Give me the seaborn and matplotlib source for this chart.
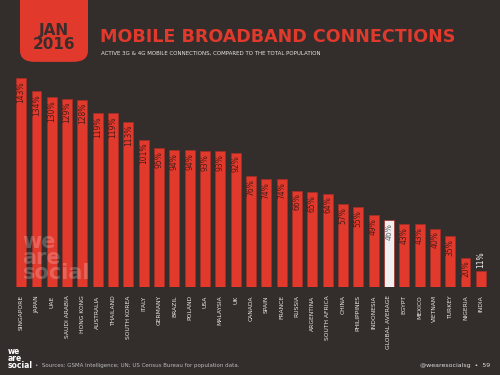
import numpy as np
import matplotlib.pyplot as plt
import seaborn as sns
import pandas as pd
from matplotlib.patches import FancyBboxPatch

# 数据
countries = ['SINGAPORE', 'JAPAN', 'UAE', 'SAUDI ARABIA', 'HONG KONG', 'AUSTRALIA',
             'THAILAND', 'SOUTH KOREA', 'ITALY', 'GERMANY', 'BRAZIL', 'POLAND', 'USA',
             'MALAYSIA', 'UK', 'CANADA', 'SPAIN', 'FRANCE', 'RUSSIA', 'ARGENTINA',
             'SOUTH AFRICA', 'CHINA', 'PHILIPPINES', 'INDONESIA', 'GLOBAL AVERAGE',
             'EGYPT', 'MEXICO', 'VIETNAM', 'TURKEY', 'NIGERIA', 'INDIA']
values = [143, 134, 130, 129, 128, 119, 119, 113, 101, 95, 94, 94, 93, 93, 92,
          76, 74, 74, 66, 65, 64, 57, 55, 49, 46, 43, 43, 40, 35, 20, 11]
highlight = 'GLOBAL AVERAGE'

BG = '#332e2c'
RED = '#e2392d'
WHITE = '#f0eeee'

sns.set_theme(style='dark')
plt.rcParams['font.family'] = ['DejaVu Sans']

df = pd.DataFrame({'country': countries, 'value': values})
palette = {c: (WHITE if c == highlight else RED) for c in countries}

fig = plt.figure(figsize=(5, 3.75), dpi=100)
fig.patch.set_facecolor(BG)
ax = fig.add_axes([0.027, 0.2347, 0.95, 0.578])
ax.set_facecolor(BG)

sns.barplot(data=df, x='country', y='value', hue='country', palette=palette,
            order=countries, width=0.65, legend=False, ax=ax, saturation=1,
            edgecolor='#a82c25', linewidth=0.5)

ax.set_xlim(-0.5, len(countries) - 0.5)
ax.set_ylim(0, 148.5)
ax.set_yticks([])
ax.set_xlabel('')
ax.set_ylabel('')
for s in ax.spines.values():
    s.set_visible(False)
ax.tick_params(axis='x', length=0, pad=6)
ax.set_xticks(range(len(countries)))
ax.set_xticklabels(countries, rotation=90, fontsize=4.3, color='#e8e6e4')

# 数值标签（竖排）
narrow = ['Liberation Sans Narrow', 'DejaVu Sans']
for i, (c, v) in enumerate(zip(countries, values)):
    if v < 15:
        ax.text(i, v + 2, f'{v}%', rotation=90, ha='center', va='bottom',
                fontsize=5.5, color=WHITE, family=narrow)
    else:
        ax.text(i, v - 2, f'{v}%', rotation=90, ha='center', va='top',
                fontsize=5.5, color='#4a1c18' if c != highlight else '#666666',
                family=narrow)

# 水印
fig.text(0.045, 0.245, 'we\nare\nsocial', fontsize=15, fontweight='bold',
         color='white', alpha=0.22, linespacing=0.72, ha='left', va='bottom')

# 标题区
box = FancyBboxPatch((0.04, 0.835), 0.136, 0.2, boxstyle='round,pad=0,rounding_size=0.03',
                     transform=fig.transFigure, facecolor=RED, edgecolor='none')
fig.patches.append(box)
fig.text(0.108, 0.9, 'JAN\n2016', ha='center', va='center', fontsize=11,
         fontweight='bold', color='#3a2e2c', linespacing=0.95)
fig.text(0.2, 0.9, 'MOBILE BROADBAND CONNECTIONS', ha='left', va='center',
         fontsize=12.6, fontweight='bold', color=RED)
fig.text(0.202, 0.857, 'ACTIVE 3G & 4G MOBILE CONNECTIONS, COMPARED TO THE TOTAL POPULATION',
         ha='left', va='center', fontsize=4, color='#e8e6e4')

# 页脚
fig.text(0.016, 0.012, 'we\nare\nsocial', fontsize=5.5, fontweight='bold', color='white',
         linespacing=0.72, ha='left', va='bottom')
fig.text(0.07, 0.018, '•  Sources: GSMA Intelligence; UN; US Census Bureau for population data.',
         fontsize=4, color='#bbbbbb', ha='left', va='bottom')
fig.text(0.98, 0.018, '@wearesocialsg  •  59', fontsize=4.5, color='#dddddd',
         ha='right', va='bottom')

fig.savefig('out.png', dpi=100, facecolor=BG)
